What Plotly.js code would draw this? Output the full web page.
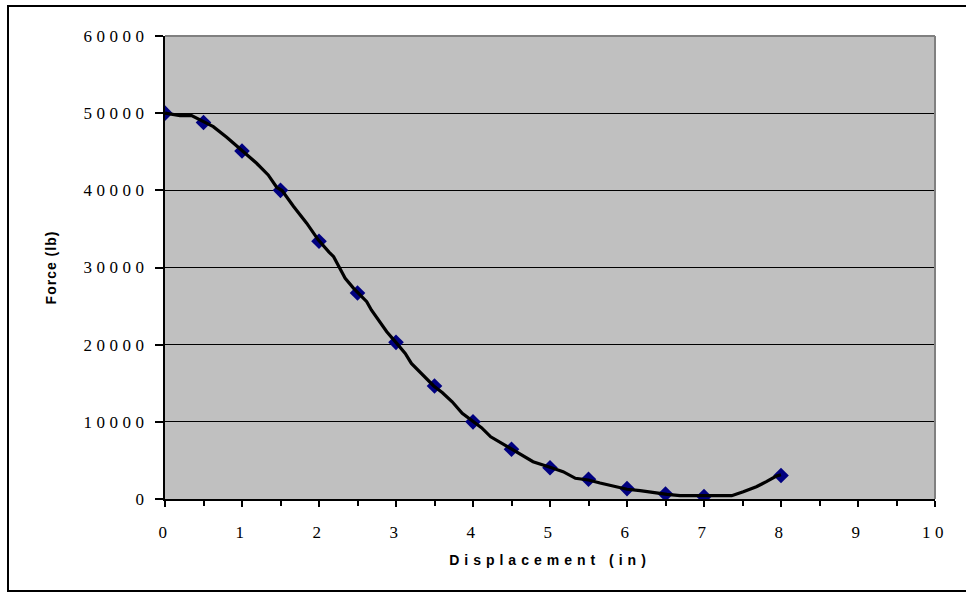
<!DOCTYPE html>
<html>
<head>
<meta charset="utf-8">
<script src="https://cdn.plot.ly/plotly-3.0.1.min.js"></script>
<style>
  html, body { margin: 0; padding: 0; background: #fff; }
  #chart { width: 966px; height: 592px; }
  .xtick text, .ytick text { letter-spacing: 4.5px; }
  text.xtitle { letter-spacing: 5px; }
  text.ytitle { letter-spacing: 1px; }
</style>
</head>
<body>
<div id="chart"></div>
<script>
// Measured data points (markers)
const displacement = [0, 0.5, 1, 1.5, 2, 2.5, 3, 3.5, 4, 4.5, 5, 5.5, 6, 6.5, 7, 8];
const force = [50000, 48800, 45100, 40000, 33400, 26700, 20300, 14650, 10000, 6450, 4050, 2550, 1350, 650, 320, 3050];

// Smoothed curve
const curveX = [0, 0.195, 0.346, 0.497, 0.627, 0.801, 0.974, 1.19, 1.34, 1.45, 1.52, 1.67, 1.84, 1.99, 2.13, 2.19, 2.27, 2.34, 2.45, 2.51, 2.62, 2.68, 2.77, 2.88, 3.01, 3.12, 3.20, 3.29, 3.40, 3.49, 3.60, 3.73, 3.86, 4.00, 4.11, 4.23, 4.34, 4.50, 4.63, 4.78, 5.00, 5.17, 5.33, 5.50, 5.65, 5.82, 6.00, 6.17, 6.34, 6.52, 6.69, 7.01, 7.36, 7.51, 7.68, 7.81, 7.94, 8.00];
const curveY = [50000, 49680, 49680, 48900, 48250, 46880, 45320, 43510, 42000, 40400, 39970, 37900, 35740, 33580, 32000, 31400, 29890, 28590, 27300, 26650, 25570, 24490, 23190, 21680, 20170, 18870, 17570, 16700, 15500, 14650, 13800, 12600, 11100, 10010, 9250, 8060, 7410, 6560, 5700, 4830, 4110, 3540, 2680, 2460, 2070, 1680, 1260, 1080, 820, 610, 430, 390, 430, 950, 1590, 2240, 2980, 3150];

const xTicks = [0, 1, 2, 3, 4, 5, 6, 7, 8, 9, 10];
const yTicks = [0, 10000, 20000, 30000, 40000, 50000, 60000];

const tickFont = { family: '"Liberation Serif", "Times New Roman", serif', size: 17, color: '#000' };
const titleFont = { family: '"Liberation Sans", Arial, sans-serif', size: 14, color: '#000', weight: 'bold' };

const traces = [
  {
    x: displacement, y: force,
    type: 'scatter', mode: 'markers',
    marker: { symbol: 'diamond', size: 12, color: '#000080', line: { width: 0 } },
    showlegend: false, hoverinfo: 'skip'
  },
  {
    x: curveX, y: curveY,
    type: 'scatter', mode: 'lines',
    line: { color: '#000', width: 3.2, shape: 'linear' },
    showlegend: false, hoverinfo: 'skip'
  }
];

const W = 966, H = 592;
const mL = 165, mR = 31, mT = 36, mB = 93;
const pw = W - mL - mR, ph = H - mT - mB;
const px = v => (v - mL) / pw;
const py = v => (H - mB - v) / ph;

const layout = {
  width: W, height: H,
  margin: { l: mL, r: mR, t: mT, b: mB, pad: 0 },
  paper_bgcolor: '#ffffff',
  plot_bgcolor: '#C0C0C0',
  hovermode: false,
  showlegend: false,
  xaxis: {
    range: [0, 10],
    tickmode: 'array', tickvals: xTicks, ticktext: xTicks.map(String),
    ticks: 'outside', ticklen: 6, tickwidth: 2, tickcolor: '#000',
    minor: { dtick: 0.5, ticks: 'outside', ticklen: 5, tickwidth: 2, tickcolor: '#000', showgrid: false },
    showline: true, linecolor: '#000', linewidth: 2,
    showgrid: false, zeroline: false,
    tickfont: tickFont,
    ticklabelstandoff: 11,
    title: { text: 'Displacement (in)', font: titleFont, standoff: 14 },
    automargin: false, fixedrange: true
  },
  yaxis: {
    range: [0, 60000],
    tickmode: 'array', tickvals: yTicks, ticktext: yTicks.map(String),
    ticks: 'outside', ticklen: 8, tickwidth: 2, tickcolor: '#000',
    showline: true, linecolor: '#000', linewidth: 2,
    showgrid: true, gridcolor: '#000', gridwidth: 1,
    zeroline: false,
    tickfont: tickFont,
    ticklabelstandoff: 3,
    title: { text: 'Force (lb)', font: titleFont, standoff: 24 },
    automargin: false, fixedrange: true
  },
  shapes: [
    // plot area border top and right (gray)
    { type: 'line', xref: 'paper', yref: 'paper', x0: 0, x1: 1, y0: 1, y1: 1, line: { color: '#808080', width: 2 } },
    { type: 'line', xref: 'paper', yref: 'paper', x0: 1, x1: 1, y0: 0, y1: 1, line: { color: '#808080', width: 2 } },
    // outer chart frame
    { type: 'rect', xref: 'paper', yref: 'paper', x0: px(8), x1: px(975), y0: py(591), y1: py(6), line: { color: '#000', width: 2 }, fillcolor: 'rgba(0,0,0,0)', layer: 'above' }
  ]
};

Plotly.newPlot('chart', traces, layout, { displayModeBar: false, staticPlot: true });
</script>
</body>
</html>
